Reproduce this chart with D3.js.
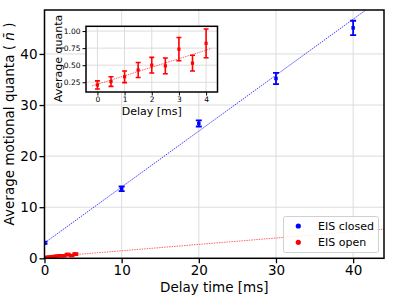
<!DOCTYPE html>
<html><head><meta charset="utf-8">
<script src="https://cdn.jsdelivr.net/npm/d3@7"></script>
<style>
body{margin:0;background:#fff;}
svg{display:block;font-family:"DejaVu Sans",sans-serif;}
</style></head>
<body><svg id="c" width="394" height="298"></svg>
<script>
// Data
const closedX = [0, 10, 20, 30, 40];
const closedY = [3.05, 13.6, 26.4, 35.2, 45.1];
const closedErr = [0.2, 0.45, 0.6, 1.1, 1.4];
const openX = [0, 0.5, 1, 1.5, 2, 2.5, 3, 3.5, 4];
const openY = [0.21, 0.26, 0.33, 0.43, 0.50, 0.49, 0.735, 0.53, 0.82];
const openErr = [0.06, 0.07, 0.085, 0.11, 0.115, 0.115, 0.17, 0.115, 0.21];
const closedFit = [3.0, 1.095];   // intercept, slope
const openFit = [0.22, 0.125];
const mainXTicks = [0, 10, 20, 30, 40];
const mainYTicks = [0, 10, 20, 30, 40];
const insetXTicks = [0, 1, 2, 3, 4];
const insetYTicks = [0.25, 0.50, 0.75, 1.00];
const legendLabels = ["EIS closed", "EIS open"];
const colors = ["#0000ff", "#ff0000"];

const svg = d3.select("#c");
const L = 44.5, R = 384, T = 10, B = 258.3;
const x = d3.scaleLinear().domain([0, 44]).range([L, R]);
const y = d3.scaleLinear().domain([0, 48.6]).range([B, T]);

svg.append("defs").append("clipPath").attr("id","mc").append("rect")
  .attr("x",L).attr("y",T).attr("width",R-L).attr("height",B-T);
svg.select("defs").append("clipPath").attr("id","ic").append("rect");

// grid
const g = svg.append("g");
g.selectAll(".gx").data(mainXTicks).enter().append("line")
  .attr("x1",d=>x(d)).attr("x2",d=>x(d)).attr("y1",T).attr("y2",B)
  .attr("stroke","#dcdcdc").attr("stroke-width",1);
g.selectAll(".gy").data(mainYTicks).enter().append("line")
  .attr("y1",d=>y(d)).attr("y2",d=>y(d)).attr("x1",L).attr("x2",R)
  .attr("stroke","#dcdcdc").attr("stroke-width",1);

// fit lines
const plot = svg.append("g").attr("clip-path","url(#mc)");
function fitLine(gr, sx, sy, fit, x0, x1, col, op){
  gr.append("line").attr("x1",sx(x0)).attr("x2",sx(x1))
    .attr("y1",sy(fit[0]+fit[1]*x0)).attr("y2",sy(fit[0]+fit[1]*x1))
    .attr("stroke",col).attr("stroke-width",1).attr("stroke-dasharray","1.5,1")
    .attr("opacity",op);
}
fitLine(plot, x, y, closedFit, 0, 50, colors[0], 0.75);
fitLine(plot, x, y, openFit, 0, 50, colors[1], 0.6);

function errPoints(gr, sx, sy, xs, ys, es, col, cap, ms, lw){
  xs.forEach((xv,i)=>{
    const cx = sx(xv), y1 = sy(ys[i]-es[i]), y2 = sy(ys[i]+es[i]);
    gr.append("line").attr("x1",cx).attr("x2",cx).attr("y1",y1).attr("y2",y2)
      .attr("stroke",col).attr("stroke-width",lw);
    [y1,y2].forEach(yy=>gr.append("line").attr("x1",cx-cap).attr("x2",cx+cap)
      .attr("y1",yy).attr("y2",yy).attr("stroke",col).attr("stroke-width",lw));
    gr.append("rect").attr("x",cx-ms/2).attr("y",sy(ys[i])-ms/2)
      .attr("width",ms).attr("height",ms).attr("fill",col);
  });
}
errPoints(plot, x, y, closedX, closedY, closedErr, colors[0], 3, 3.5, 1.8);
errPoints(plot, x, y, openX, openY, openErr, colors[1], 3, 3.5, 1.8);

// axes
const ax = svg.append("g").attr("transform",`translate(0,${B})`)
  .call(d3.axisBottom(x).tickValues(mainXTicks).tickSize(5).tickPadding(2));
const ay = svg.append("g").attr("transform",`translate(${L},0)`)
  .call(d3.axisLeft(y).tickValues(mainYTicks).tickSize(5).tickPadding(2));
[ax,ay].forEach(a=>{
  a.select(".domain").remove();
  a.selectAll(".tick line").attr("stroke","#000").attr("stroke-width",1.3);
  a.selectAll(".tick text").attr("font-size","13.5px").attr("fill","#000")
   .attr("font-family","DejaVu Sans");
});
svg.append("rect").attr("x",L).attr("y",T).attr("width",R-L).attr("height",B-T)
  .attr("fill","none").attr("stroke","#000").attr("stroke-width",1.5);

svg.append("text").attr("x",(L+R)/2).attr("y",292).attr("text-anchor","middle")
  .attr("font-size","13.5px").text("Delay time [ms]");
const yl = svg.append("text").attr("transform","translate(14,124) rotate(-90)")
  .attr("text-anchor","middle").attr("font-size","13.5px");
yl.append("tspan").text("Average motional quanta ( ");
yl.append("tspan").attr("font-style","italic").text("n\u0304");
yl.append("tspan").text(" )");

// legend
const lg = svg.append("g");
lg.append("rect").attr("x",283.5).attr("y",216.5).attr("width",95).attr("height",36)
  .attr("rx",2).attr("fill","#fff").attr("fill-opacity",0.85)
  .attr("stroke","#d0d0d0").attr("stroke-width",1);
legendLabels.forEach((t,i)=>{
  const yy = 226 + i*16.3;
  lg.append("circle").attr("cx",298.3).attr("cy",yy).attr("r",2.6).attr("fill",colors[i]);
  lg.append("text").attr("x",318).attr("y",yy).attr("dy","0.36em")
    .attr("font-size","11px").text(t);
});

// inset
const iL = 86, iR = 217.5, iT = 26.3, iB = 92;
const ix = d3.scaleLinear().domain([-0.42, 4.42]).range([iL, iR]);
const iy = d3.scaleLinear().domain([0.107, 1.07]).range([iB, iT]);
svg.select("#ic rect").attr("x",iL).attr("y",iT).attr("width",iR-iL).attr("height",iB-iT);
svg.append("rect").attr("x",iL).attr("y",iT).attr("width",iR-iL).attr("height",iB-iT).attr("fill","#fff");
const ig = svg.append("g");
ig.selectAll(".igx").data(insetXTicks).enter().append("line")
  .attr("x1",d=>ix(d)).attr("x2",d=>ix(d)).attr("y1",iT).attr("y2",iB)
  .attr("stroke","#dcdcdc").attr("stroke-width",1);
ig.selectAll(".igy").data(insetYTicks).enter().append("line")
  .attr("y1",d=>iy(d)).attr("y2",d=>iy(d)).attr("x1",iL).attr("x2",iR)
  .attr("stroke","#dcdcdc").attr("stroke-width",1);
const ip = svg.append("g").attr("clip-path","url(#ic)");
fitLine(ip, ix, iy, openFit, -0.2, 4.2, colors[1], 0.6);
errPoints(ip, ix, iy, openX, openY, openErr, colors[1], 2.5, 3.2, 1.6);
const iax = svg.append("g").attr("transform",`translate(0,${iB})`)
  .call(d3.axisBottom(ix).tickValues(insetXTicks).tickSize(3.5).tickPadding(1.5).tickFormat(d3.format("d")));
const iay = svg.append("g").attr("transform",`translate(${iL},0)`)
  .call(d3.axisLeft(iy).tickValues(insetYTicks).tickSize(3.5).tickPadding(2).tickFormat(d3.format(".2f")));
[iax,iay].forEach(a=>{
  a.select(".domain").remove();
  a.selectAll(".tick line").attr("stroke","#000").attr("stroke-width",1);
  a.selectAll(".tick text").attr("font-size","7.5px").attr("fill","#000")
   .attr("font-family","DejaVu Sans");
});
svg.append("rect").attr("x",iL).attr("y",iT).attr("width",iR-iL).attr("height",iB-iT)
  .attr("fill","none").attr("stroke","#000").attr("stroke-width",1.5);
svg.append("text").attr("x",(iL+iR)/2).attr("y",114.5).attr("text-anchor","middle")
  .attr("font-size","11px").text("Delay [ms]");
svg.append("text").attr("transform","translate(62,58.5) rotate(-90)")
  .attr("text-anchor","middle").attr("font-size","11px").text("Average quanta");
</script></body></html>
